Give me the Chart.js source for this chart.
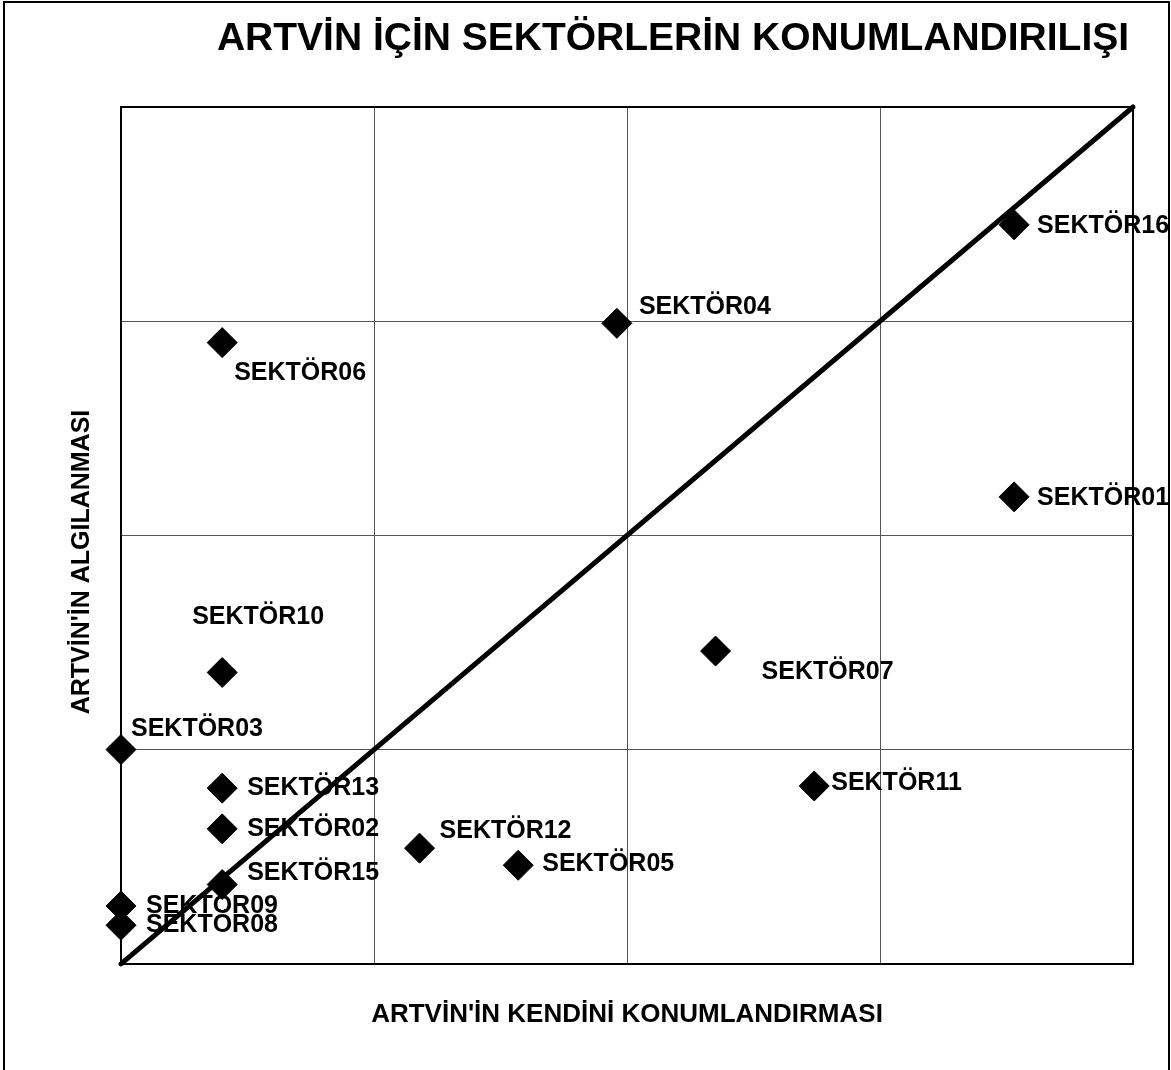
<!DOCTYPE html>
<html>
<head>
<meta charset="utf-8">
<script src="https://cdn.jsdelivr.net/npm/chart.js@4/dist/chart.umd.min.js"></script>
<style>
  body { margin: 0; background: #fff; }
</style>
</head>
<body>
<canvas id="myChart" width="1171" height="1070"></canvas>
<script>
// sector names and their two scores (x: kendini konumlandırma, y: algılanma)
var sectors = ['SEKTÖR01','SEKTÖR02','SEKTÖR03','SEKTÖR04','SEKTÖR05','SEKTÖR06','SEKTÖR07','SEKTÖR08',
               'SEKTÖR09','SEKTÖR10','SEKTÖR11','SEKTÖR12','SEKTÖR13','SEKTÖR15','SEKTÖR16'];
var selfPos   = [3.53, 0.40, 0.00, 1.96, 1.57, 0.40, 2.35, 0.00, 0.00, 0.40, 2.74, 1.18, 0.40, 0.40, 3.53];
var perceived = [2.18, 0.63, 1.00, 2.99, 0.46, 2.90, 1.46, 0.18, 0.27, 1.36, 0.83, 0.54, 0.82, 0.37, 3.45];
var diagonal  = [0, 4];
var axisMin = 0, axisMax = 4;

// where each label sits relative to its marker (px)
var labelOffsets = [[23,1],[25,0],[10,-20],[22,-16],[24,-1],[12,30],[46,21],[25,0],
                    [25,0],[-30,-55],[17,-3],[20,-17],[25,0],[25,-11],[23,1]];

var FONT = '"Liberation Sans", Arial, sans-serif';

var points = sectors.map(function (s, i) { return { x: selfPos[i], y: perceived[i] }; });
var diagPoints = diagonal.map(function (v) { return { x: v, y: v }; });

var extras = {
    id: 'extras',
    beforeDraw: function (chart) {
        var c = chart.ctx;
        c.save();
        c.fillStyle = '#fff';
        c.fillRect(0, 0, chart.width, chart.height);
        c.strokeStyle = '#000';
        c.lineWidth = 2;
        c.beginPath();
        c.moveTo(4, chart.height);
        c.lineTo(4, 2);
        c.lineTo(1169, 2);
        c.lineTo(1169, chart.height);
        c.stroke();
        c.restore();
    },
    afterDraw: function (chart) {
        var c = chart.ctx;
        c.save();
        c.fillStyle = '#000';
        // main title
        c.font = 'bold 39px ' + FONT;
        c.textAlign = 'center';
        c.textBaseline = 'middle';
        c.fillText('ARTVİN İÇİN SEKTÖRLERİN KONUMLANDIRILIŞI', 673, 39);
        // y axis title
        c.save();
        c.translate(82, 562);
        c.rotate(-Math.PI / 2);
        c.font = 'bold 25px ' + FONT;
        c.fillText("ARTVİN'İN ALGILANMASI", 0, 0);
        c.restore();
        // point labels
        var meta = chart.getDatasetMeta(1);
        c.font = 'bold 25px ' + FONT;
        c.textAlign = 'left';
        meta.data.forEach(function (el, i) {
            c.fillText(sectors[i], el.x + labelOffsets[i][0], el.y + labelOffsets[i][1]);
        });
        c.restore();
    }
};

function edgeColor(ctx) {
    return (ctx.tick && ctx.tick.value === axisMax) ? '#000' : '#555';
}
function edgeWidth(ctx) {
    return (ctx.tick && ctx.tick.value === axisMax) ? 2 : 1;
}

var ctx = document.getElementById('myChart').getContext('2d');
var chart = new Chart(ctx, {
    type: 'scatter',
    data: {
        datasets: [{
            type: 'line',
            label: 'diagonal',
            data: diagPoints,
            borderColor: '#000',
            borderWidth: 5,
            borderCapStyle: 'round',
            pointRadius: 0,
            fill: false,
            clip: false
        }, {
            label: 'sektörler',
            data: points,
            pointStyle: 'rectRot',
            pointRadius: 15,
            pointHoverRadius: 15,
            backgroundColor: '#000',
            borderColor: '#000',
            borderWidth: 1,
            clip: false
        }]
    },
    options: {
        responsive: false,
        animation: false,
        layout: { padding: { left: 121, top: 107, right: 38, bottom: 40 } },
        plugins: {
            legend: { display: false },
            tooltip: { enabled: false }
        },
        scales: {
            x: {
                type: 'linear',
                min: axisMin,
                max: axisMax,
                ticks: { display: false, stepSize: 1 },
                grid: { color: edgeColor, lineWidth: edgeWidth, drawTicks: false },
                border: { color: '#000', width: 2 },
                title: {
                    display: true,
                    text: "ARTVİN'İN KENDİNİ KONUMLANDIRMASI",
                    color: '#000',
                    font: { family: FONT, size: 26, weight: 'bold' },
                    padding: { top: 35, bottom: 0 }
                }
            },
            y: {
                type: 'linear',
                min: axisMin,
                max: axisMax,
                ticks: { display: false, stepSize: 1 },
                grid: { color: edgeColor, lineWidth: edgeWidth, drawTicks: false },
                border: { color: '#000', width: 2 }
            }
        }
    },
    plugins: [extras]
});
</script>
</body>
</html>
